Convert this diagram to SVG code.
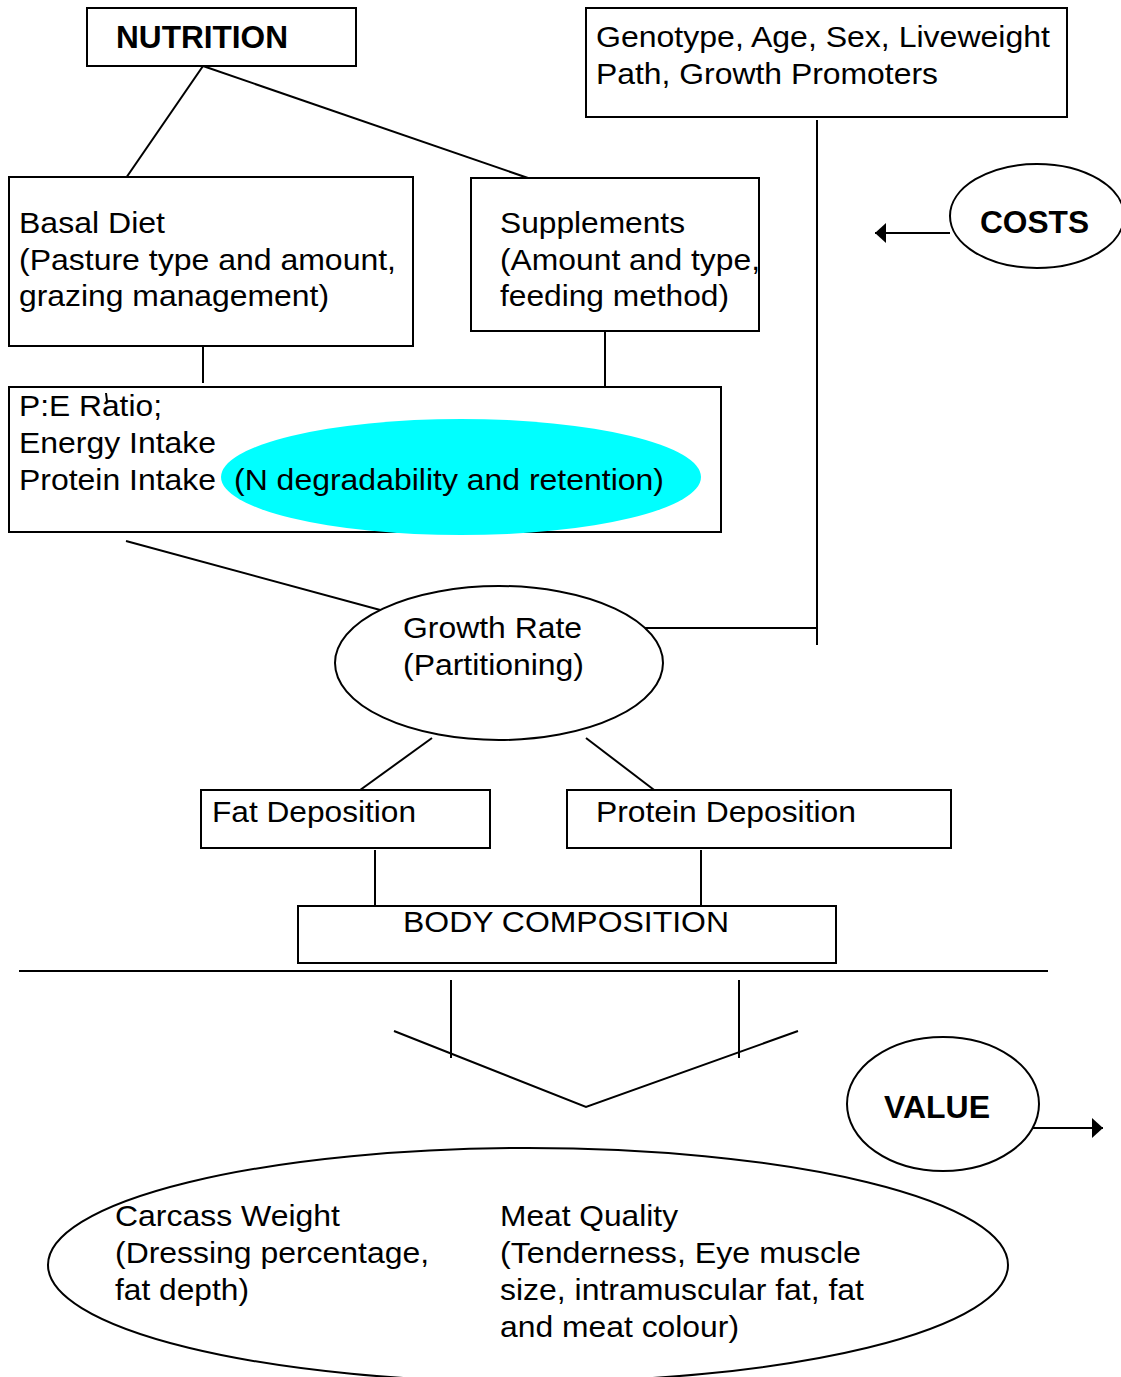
<svg xmlns="http://www.w3.org/2000/svg" width="1121" height="1377" viewBox="0 0 1121 1377">
<style>
text{font-family:"Liberation Sans",Arial,sans-serif;font-size:30px;fill:#000}
.b{font-weight:bold;font-size:32px}
.box{fill:#fff;stroke:#000;stroke-width:2}
.ell{fill:#fff;stroke:#000;stroke-width:2}
.ln{stroke:#000;stroke-width:2;fill:none}
</style>
<defs>
<marker id="ah" viewBox="0 0 11 20" refX="11" refY="10" markerWidth="11" markerHeight="20" markerUnits="userSpaceOnUse" orient="auto">
<path d="M0,0 L11,10 L0,20 Z" fill="#000"/>
</marker>
</defs>
<rect width="1121" height="1377" fill="#fff"/>
<g id="connectors">
<line class="ln" x1="203" y1="66" x2="126" y2="178"/>
<line class="ln" x1="203" y1="66" x2="528" y2="178"/>
<line class="ln" x1="817" y1="120" x2="817" y2="645"/>
<line class="ln" x1="203" y1="346" x2="203" y2="383"/>
<line class="ln" x1="605" y1="331" x2="605" y2="390"/>
<line class="ln" x1="126" y1="541" x2="395" y2="614"/>
<line class="ln" x1="645" y1="628" x2="817" y2="628"/>
<line class="ln" x1="432" y1="738" x2="356" y2="793"/>
<line class="ln" x1="586" y1="738" x2="662" y2="796"/>
<line class="ln" x1="375" y1="850" x2="375" y2="907"/>
<line class="ln" x1="701" y1="850" x2="701" y2="906"/>
<line class="ln" x1="19" y1="971" x2="1048" y2="971" stroke-width="1.5"/>
<line class="ln" x1="451" y1="980" x2="451" y2="1058"/>
<line class="ln" x1="739" y1="980" x2="739" y2="1058"/>
<polyline class="ln" points="394,1031 586,1107 798,1031"/>
<line class="ln" x1="950" y1="233" x2="875" y2="233" marker-end="url(#ah)"/>
<line class="ln" x1="1027" y1="1128" x2="1103" y2="1128" marker-end="url(#ah)"/>
</g>
<g id="nutrition">
<rect class="box" x="87" y="8" width="269" height="58"/>
<text class="b" x="116" y="48" textLength="172" lengthAdjust="spacingAndGlyphs">NUTRITION</text>
</g>
<g id="genotype">
<rect class="box" x="586" y="8" width="481" height="109"/>
<text x="596" y="47" textLength="454" lengthAdjust="spacingAndGlyphs">Genotype, Age, Sex, Liveweight</text>
<text x="596" y="84" textLength="342" lengthAdjust="spacingAndGlyphs">Path, Growth Promoters</text>
</g>
<g id="basal">
<rect class="box" x="9" y="177" width="404" height="169"/>
<text x="19" y="233" textLength="146" lengthAdjust="spacingAndGlyphs">Basal Diet</text>
<text x="19" y="270" textLength="377" lengthAdjust="spacingAndGlyphs">(Pasture type and amount,</text>
<text x="19" y="306" textLength="310" lengthAdjust="spacingAndGlyphs">grazing management)</text>
</g>
<g id="supplements">
<rect class="box" x="471" y="178" width="288" height="153"/>
<text x="500" y="233" textLength="185" lengthAdjust="spacingAndGlyphs">Supplements</text>
<text x="500" y="270" textLength="260" lengthAdjust="spacingAndGlyphs">(Amount and type,</text>
<text x="500" y="306" textLength="229" lengthAdjust="spacingAndGlyphs">feeding method)</text>
</g>
<g id="costs">
<ellipse class="ell" cx="1037" cy="216" rx="87" ry="52"/>
<text class="b" x="980" y="233" textLength="109" lengthAdjust="spacingAndGlyphs">COSTS</text>
</g>
<g id="intake">
<rect class="box" x="9" y="387" width="712" height="145"/>
<ellipse cx="461" cy="477" rx="240" ry="58" fill="#00ffff"/>
<line class="ln" x1="106" y1="393" x2="107" y2="401" stroke-width="1.5"/>
<text x="19" y="416" textLength="143" lengthAdjust="spacingAndGlyphs">P:E Ratio;</text>
<text x="19" y="453" textLength="197" lengthAdjust="spacingAndGlyphs">Energy Intake</text>
<text x="19" y="490" textLength="197" lengthAdjust="spacingAndGlyphs">Protein Intake</text>
<text x="234" y="490" textLength="430" lengthAdjust="spacingAndGlyphs">(N degradability and retention)</text>
</g>
<g id="growth">
<ellipse class="ell" cx="499" cy="663" rx="164" ry="77" fill="none"/>
<text x="403" y="638" textLength="179" lengthAdjust="spacingAndGlyphs">Growth Rate</text>
<text x="403" y="675" textLength="181" lengthAdjust="spacingAndGlyphs">(Partitioning)</text>
</g>
<g id="fat">
<rect class="box" x="201" y="790" width="289" height="58"/>
<text x="212" y="822" textLength="204" lengthAdjust="spacingAndGlyphs">Fat Deposition</text>
</g>
<g id="protein">
<rect class="box" x="567" y="790" width="384" height="58"/>
<text x="596" y="822" textLength="260" lengthAdjust="spacingAndGlyphs">Protein Deposition</text>
</g>
<g id="body">
<rect class="box" x="298" y="906" width="538" height="57"/>
<text x="403" y="932" textLength="326" lengthAdjust="spacingAndGlyphs">BODY COMPOSITION</text>
</g>
<g id="value">
<ellipse class="ell" cx="943" cy="1104" rx="96" ry="67" fill="none"/>
<text class="b" x="884" y="1118" textLength="106" lengthAdjust="spacingAndGlyphs">VALUE</text>
</g>
<g id="carcass">
<ellipse class="ell" cx="528" cy="1265" rx="480" ry="117" fill="none"/>
<text x="115" y="1226" textLength="225" lengthAdjust="spacingAndGlyphs">Carcass Weight</text>
<text x="115" y="1263" textLength="314" lengthAdjust="spacingAndGlyphs">(Dressing percentage,</text>
<text x="115" y="1300" textLength="134" lengthAdjust="spacingAndGlyphs">fat depth)</text>
<text x="500" y="1226" textLength="178" lengthAdjust="spacingAndGlyphs">Meat Quality</text>
<text x="500" y="1263" textLength="361" lengthAdjust="spacingAndGlyphs">(Tenderness, Eye muscle</text>
<text x="500" y="1300" textLength="364" lengthAdjust="spacingAndGlyphs">size, intramuscular fat, fat</text>
<text x="500" y="1337" textLength="239" lengthAdjust="spacingAndGlyphs">and meat colour)</text>
</g>
</svg>
